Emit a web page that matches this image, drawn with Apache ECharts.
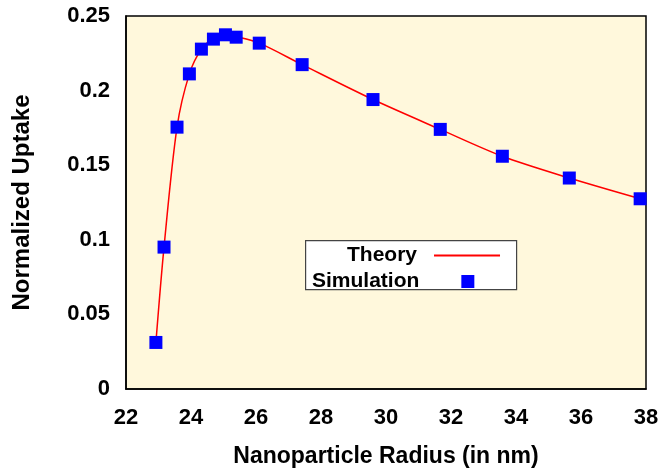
<!DOCTYPE html>
<html><head><meta charset="utf-8">
<script src="https://cdn.jsdelivr.net/npm/echarts@6/dist/echarts.min.js"></script>
<style>html,body{margin:0;padding:0;background:#fff}#c{width:663px;height:473px}</style>
</head><body><div id="c"></div>
<script>
const simX = [22.92, 23.17, 23.57, 23.95, 24.32, 24.69, 25.06, 25.39, 26.10, 27.42, 29.60, 31.67, 33.58, 35.64, 37.82];
const simY = [0.0312, 0.0951, 0.1755, 0.2112, 0.2278, 0.2345, 0.2374, 0.2358, 0.2318, 0.2174, 0.1940, 0.1740, 0.1560, 0.1414, 0.1275];
const theoryX = [22.92, 23.17, 23.57, 23.95, 24.32, 24.69, 25.06, 25.39, 26.10, 27.42, 29.60, 31.67, 33.58, 35.64, 37.82];
const theoryY = [0.0312, 0.0951, 0.1755, 0.2112, 0.2278, 0.2350, 0.2374, 0.2362, 0.2318, 0.2174, 0.1940, 0.1740, 0.1560, 0.1414, 0.1275];
const xTicks = [22, 24, 26, 28, 30, 32, 34, 36, 38];
const yTicks = [0, 0.05, 0.1, 0.15, 0.2, 0.25];

const font = 'Liberation Sans, Arial, sans-serif';
const chart = echarts.init(document.getElementById('c'), null, {renderer: 'canvas'});
chart.setOption({
  animation: false,
  backgroundColor: '#ffffff',
  grid: {left: 126, top: 16, right: 17, bottom: 81, show: true, backgroundColor: '#FFF8DC', borderColor: '#000', borderWidth: 1.5},
  xAxis: {
    type: 'value', min: xTicks[0], max: xTicks[xTicks.length - 1], interval: 2,
    name: 'Nanoparticle Radius (in nm)', nameLocation: 'middle', nameGap: 56,
    nameTextStyle: {fontFamily: font, fontWeight: 'bold', fontSize: 23, color: '#000'},
    axisLine: {show: true, lineStyle: {color: '#000', width: 1.5}},
    axisTick: {show: false}, splitLine: {show: false},
    axisLabel: {fontFamily: font, fontWeight: 'bold', fontSize: 22, color: '#000', margin: 18}
  },
  yAxis: {
    type: 'value', min: yTicks[0], max: yTicks[yTicks.length - 1], interval: 0.05,
    name: 'Normalized Uptake', nameLocation: 'middle', nameGap: 92,
    nameTextStyle: {fontFamily: font, fontWeight: 'bold', fontSize: 24, color: '#000'},
    axisLine: {show: true, lineStyle: {color: '#000', width: 1.5}},
    axisTick: {show: false}, splitLine: {show: false},
    axisLabel: {fontFamily: font, fontWeight: 'bold', fontSize: 22, color: '#000', margin: 16,
      formatter: v => yTicks.find(t => Math.abs(t - v) < 1e-9) !== undefined ? String(+v.toFixed(2)) : ''}
  },
  graphic: [{type: 'rect', left: 305, top: 240, shape: {width: 211, height: 49},
    style: {fill: '#fff', stroke: '#444', lineWidth: 1.2}, z: 50}],
  legend: [
    {data: [{name: 'Theory', icon: 'rect'}], left: 342, top: 240, align: 'right', itemWidth: 66, itemHeight: 2, itemGap: 0,
      itemStyle: {color: '#ff0000'},
      textStyle: {fontFamily: font, fontWeight: 'bold', fontSize: 21, color: '#000', padding: [0, 12, 0, 0]}, z: 60},
    {data: [{name: 'Simulation', icon: 'rect'}], left: 307, top: 266, align: 'right', itemWidth: 13, itemHeight: 13,
      textStyle: {fontFamily: font, fontWeight: 'bold', fontSize: 21, color: '#000', padding: [0, 37, 0, 0]}, z: 60}
  ],
  series: [
    {name: 'Theory', type: 'line', smooth: 0.3, symbol: 'none', data: theoryX.map((x, i) => [x, theoryY[i]]),
      lineStyle: {color: '#ff0000', width: 1.5}, itemStyle: {color: '#ff0000'}, z: 2},
    {name: 'Simulation', type: 'scatter', symbol: 'rect', symbolSize: 13, data: simX.map((x, i) => [x, simY[i]]),
      itemStyle: {color: '#0000ff', opacity: 1}, z: 3}
  ]
});
</script></body></html>
